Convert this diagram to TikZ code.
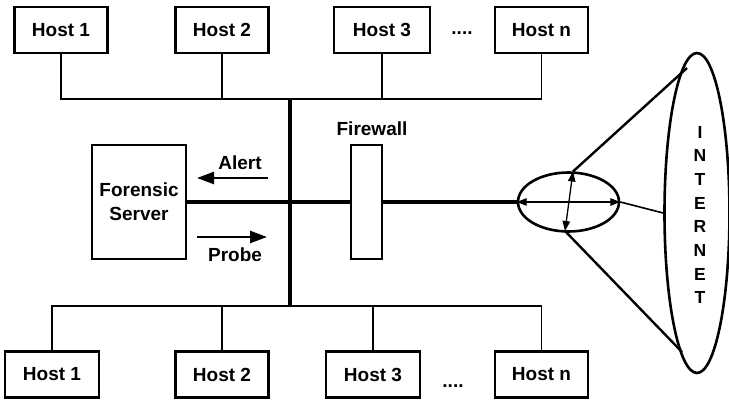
\documentclass[tikz,border=0pt]{standalone}
\usepackage{fontspec}
\setmainfont{Liberation Sans}
\usetikzlibrary{shapes.geometric,arrows.meta}
\begin{document}
\begin{tikzpicture}[x=1pt,y=-1pt,
  lbl/.style={font=\fontsize{19}{24}\selectfont\bfseries,inner sep=0pt},
  hostbox/.style={draw,line width=2.8pt,minimum height=46pt,minimum width=93pt,
    inner sep=0pt,font=\fontsize{19}{24}\selectfont\bfseries},
  tall/.style={draw,line width=2.8pt,inner sep=0pt},
  wire/.style={line width=1.6pt},
  trunk/.style={line width=3.5pt},
  flow/.style={line width=2.4pt,-{Triangle[length=17pt,width=12pt]}},
  dbl/.style={line width=1.3pt,{Triangle[length=10pt,width=7.5pt]}-{Triangle[length=10pt,width=7.5pt]}},
  loop/.style={draw,ellipse,line width=2.6pt,inner sep=0pt}]
\useasboundingbox (0,0) rectangle (729,401);

% upper row of hosts
\node[hostbox] (t1) at (61,30) {Host 1};
\node[hostbox] (t2) at (222,30) {Host 2};
\node[hostbox,minimum width=96pt] (t3) at (382,30) {Host 3};
\node[hostbox] (tn) at (541.5,30) {Host n};
\node[lbl,anchor=base] (tdots) at (462,35) {....};

% lower row of hosts
\node[hostbox,minimum width=94pt] (b1) at (52,374.5) {Host 1};
\node[hostbox] (b2) at (222,374.5) {Host 2};
\node[hostbox,minimum width=94pt] (b3) at (373,374.5) {Host 3};
\node[hostbox] (bn) at (541.5,374.5) {Host n};
\node[lbl,anchor=base] (bdots) at (453,387) {....};

% bus coordinates
\coordinate (vtop) at (290,99);
\coordinate (vbot) at (290,306);

% upper bus
\draw[wire] (t1.south) |- (vtop) -| (tn.south);
\draw[wire] (t2.south) -- (t2.south |- vtop);
\draw[wire] (t3.south) -- (t3.south |- vtop);

% lower bus
\draw[wire] (b1.north) |- (vbot) -| (bn.north);
\draw[wire] (b2.north) -- (b2.north |- vbot);
\draw[wire] (b3.north) -- (b3.north |- vbot);

% backbone
\draw[trunk] (vtop) -- (vbot);

% forensic server and firewall
\node[tall,minimum width=94pt,minimum height=114pt,align=center,
  font=\fontsize{19}{24}\selectfont\bfseries] (fs) at (139,202) {Forensic\\Server};
\node[tall,minimum width=31pt,minimum height=114pt] (fw) at (366.5,202) {};
\node[lbl] (fwl) at (372,129) {Firewall};

% gateway ellipse
\node[loop,minimum width=101pt,minimum height=59pt] (gw) at (568.5,202) {};

% internet cloud
\node[loop,minimum width=65pt,minimum height=320pt] (inet) at (697,213) {};
\node[lbl,align=center,font=\fontsize{17.5}{23.7}\selectfont\bfseries] (inettxt) at (700,215)
  {I\\N\\T\\E\\R\\N\\E\\T};

% links
\draw[trunk] (fs.east) -- (fw.west);
\draw[trunk] (fw.east) -- (gw.west);
\draw[wire] (gw.east) -- (inet.west);

% arrows inside gateway
\draw[dbl] (gw.west) -- (gw.east);
\coordinate (gtop) at (573,171.5);
\coordinate (gbot) at (565,231);
\draw[dbl] (gtop) -- (gbot);

% cone to internet
\coordinate (ctop) at (687,68);
\coordinate (cbot) at (682,352);
\draw[line width=2.4pt] (gtop) -- (ctop);
\draw[line width=2.4pt] (gbot) -- (cbot);

% alert and probe
\coordinate (a1) at (268,178);
\coordinate (a2) at (197,178);
\draw[flow] (a1) -- (a2);
\node[lbl] (alert) at (240,163) {Alert};
\coordinate (p1) at (197,237);
\coordinate (p2) at (267,237);
\draw[flow] (p1) -- (p2);
\node[lbl] (probe) at (235,255) {Probe};
\end{tikzpicture}
\end{document}
